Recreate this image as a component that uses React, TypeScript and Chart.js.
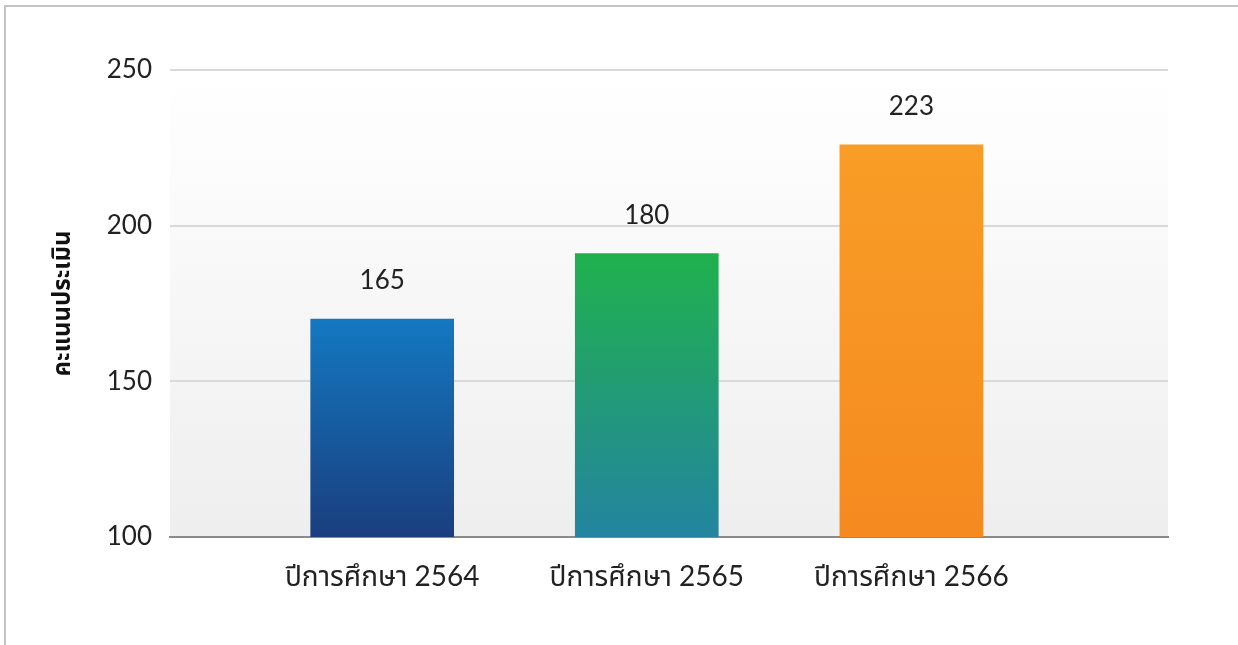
import React, { useEffect, useRef } from "react";
import { Chart, registerables } from "chart.js";

Chart.register(...registerables);

// ---- data ----
const categories = ["ปีการศึกษา 2564", "ปีการศึกษา 2565", "ปีการศึกษา 2566"];
const scoreLabels = ["165", "180", "223"]; // printed above the bars
const barHeights = [170, 191, 226]; // bar tops as read against the axis
const yTicks = [100, 150, 200, 250];
const yTitle = "คะแนนประเมิน";
const barTop = ["#1478c1", "#20b14e", "#f89d26"];
const barBottom = ["#1a3e7e", "#2384a0", "#f58a20"];

const FONT = "Lato, 'Noto Sans Thai', 'Noto Sans', sans-serif";

const bgPlugin = {
  id: "plotBg",
  beforeDraw(chart: any) {
    const { ctx, chartArea } = chart;
    if (!chartArea) return;
    const g = ctx.createLinearGradient(0, chartArea.top, 0, chartArea.bottom);
    g.addColorStop(0, "#ffffff");
    g.addColorStop(0.2, "#fcfcfc");
    g.addColorStop(1, "#eeeeef");
    ctx.save();
    ctx.fillStyle = g;
    ctx.fillRect(chartArea.left, chartArea.top, chartArea.right - chartArea.left, chartArea.bottom - chartArea.top);
    ctx.restore();
  },
};

const labelPlugin = {
  id: "valueLabels",
  afterDatasetsDraw(chart: any) {
    const { ctx } = chart;
    const meta = chart.getDatasetMeta(0);
    ctx.save();
    ctx.font = `26px ${FONT}`;
    ctx.fillStyle = "#222222";
    ctx.textAlign = "center";
    ctx.textBaseline = "middle";
    meta.data.forEach((el: any, i: number) => {
      ctx.fillText(scoreLabels[i], el.x, el.y - 38);
    });
    ctx.restore();
  },
};

export default function App() {
  const ref = useRef<HTMLCanvasElement | null>(null);

  useEffect(() => {
    if (!ref.current) return;
    const chart = new Chart(ref.current, {
      type: "bar",
      data: {
        datasets: [
          {
            data: barHeights.map((v, i) => ({ x: i + 1, y: v })),
            barThickness: 143,
            borderWidth: 0,
            backgroundColor: (c: any) => {
              const chartRef = c.chart;
              const area = chartRef.chartArea;
              const i = c.dataIndex ?? 0;
              if (!area || c.raw == null) return barTop[i];
              const yScale = chartRef.scales.y;
              const top = yScale.getPixelForValue(c.raw.y);
              const bottom = area.bottom;
              const g = chartRef.ctx.createLinearGradient(0, top, 0, bottom);
              g.addColorStop(0, barTop[i]);
              g.addColorStop(1, barBottom[i]);
              return g;
            },
          },
        ],
      },
      options: {
        animation: false,
        responsive: false,
        maintainAspectRatio: false,
        layout: { padding: { left: 0, right: 70, top: 70, bottom: 0 } },
        plugins: {
          legend: { display: false },
          tooltip: { enabled: false },
        },
        scales: {
          x: {
            type: "linear",
            offset: false,
            min: 0.198,
            max: 3.97,
            afterBuildTicks: (s: any) => {
              s.ticks = categories.map((_, i) => ({ value: i + 1 }));
            },
            afterFit: (s: any) => {
              s.height = 108;
            },
            grid: { display: false, drawTicks: false, offset: false },
            border: { display: true, color: "#8a8a8a", width: 2 },
            ticks: {
              padding: 23,
              color: "#222222",
              font: { family: FONT, size: 28 },
              maxRotation: 0,
              autoSkip: false,
              callback: (v: any) => categories[Number(v) - 1] ?? "",
            },
          },
          y: {
            type: "linear",
            min: yTicks[0],
            max: yTicks[yTicks.length - 1],
            afterBuildTicks: (s: any) => {
              s.ticks = yTicks.map((v) => ({ value: v }));
            },
            afterFit: (s: any) => {
              s.width = 170;
            },
            grid: { color: "#d9d9d9", lineWidth: 2, drawTicks: false },
            border: { display: false },
            ticks: {
              padding: 18,
              color: "#222222",
              font: { family: FONT, size: 26 },
            },
            title: {
              display: true,
              text: yTitle,
              color: "#111111",
              font: { family: FONT, size: 24, weight: "bold" },
              padding: { top: 48, bottom: 0 },
            },
          },
        },
      },
      plugins: [bgPlugin, labelPlugin],
    });
    return () => chart.destroy();
  }, []);

  return (
    <div style={{ position: "absolute", left: 0, top: 0, width: 1238, height: 645, background: "#ffffff", overflow: "hidden" }}>
      <div
        style={{
          position: "absolute",
          left: 4,
          top: 5,
          right: 0,
          bottom: 0,
          borderTop: "2px solid #c4c4c4",
          borderLeft: "2px solid #c4c4c4",
        }}
      />
      <canvas ref={ref} width={1238} height={645} style={{ position: "absolute", left: 0, top: 0, width: 1238, height: 645 }} />
    </div>
  );
}
